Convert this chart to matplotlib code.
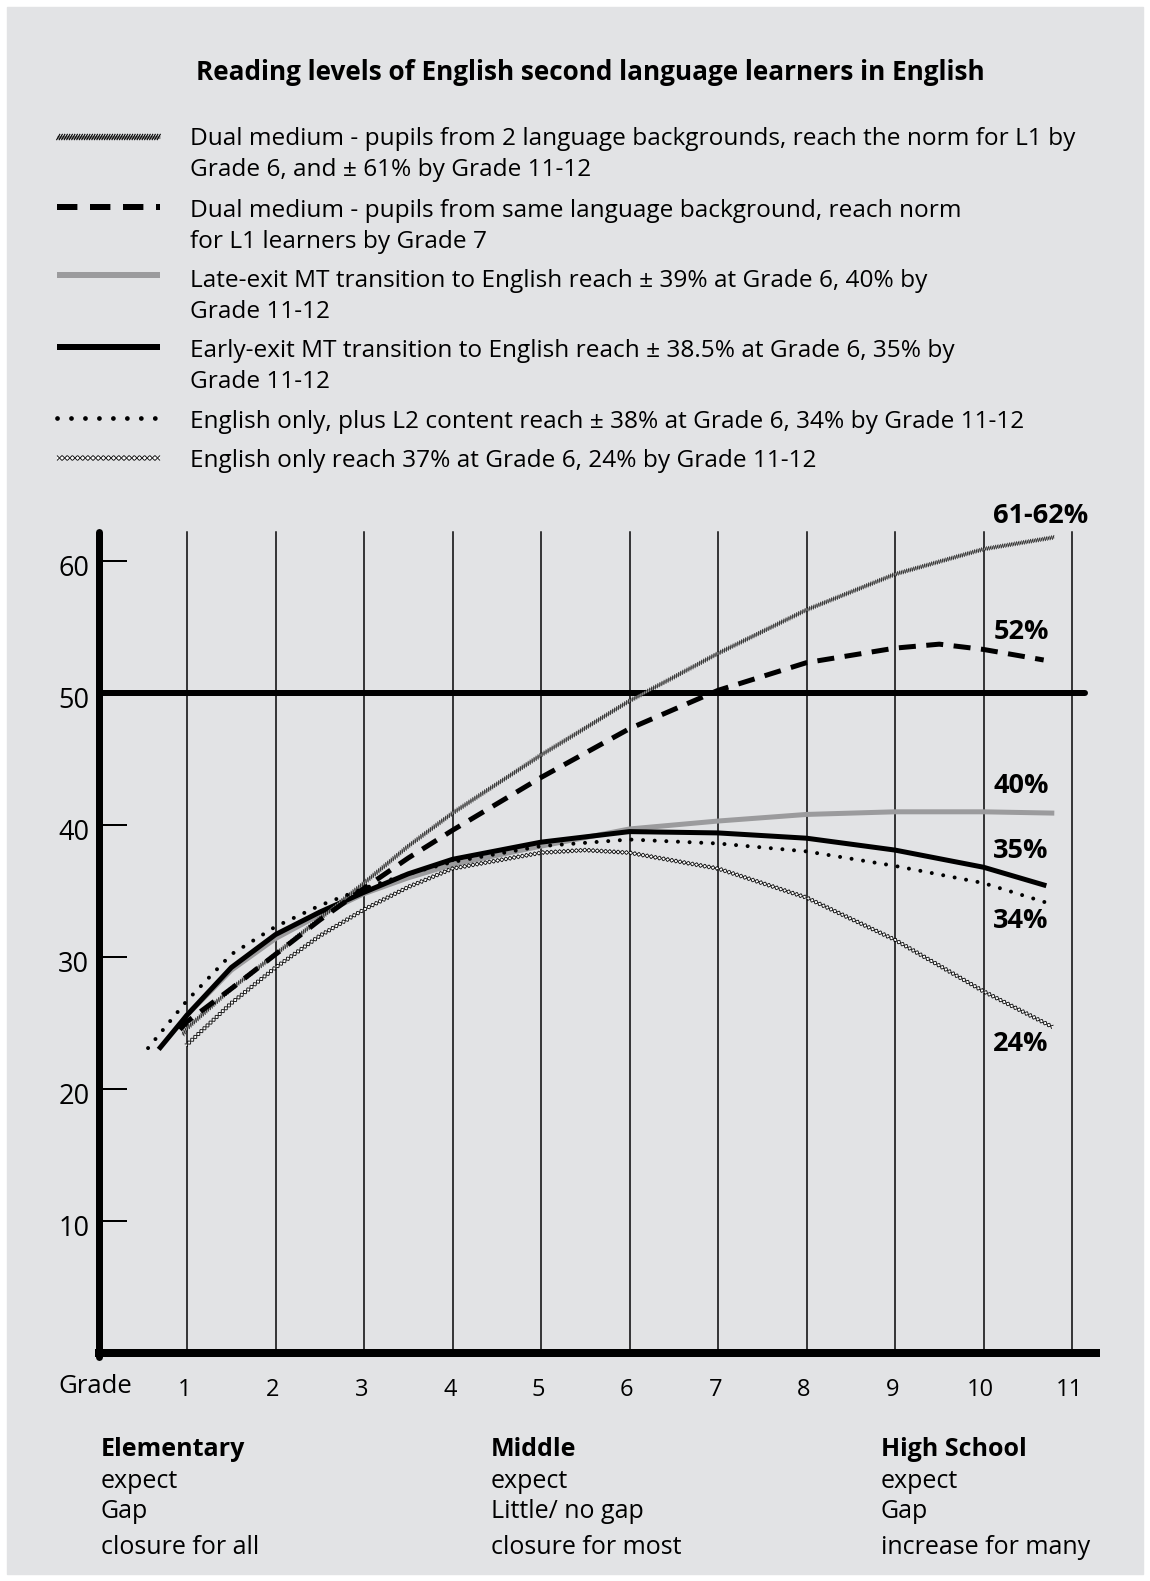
import matplotlib.pyplot as plt
import matplotlib.patheffects as pe
from matplotlib.patches import Rectangle

plt.rcParams['font.family'] = ['Open Sans', 'DejaVu Sans']

# ---- data ----
g_dual2 = [0.95, 1, 1.5, 2, 2.5, 3, 3.5, 4, 5, 6, 7, 8, 9, 10, 10.8]
v_dual2 = [24.1, 24.6, 27.6, 30.2, 32.9, 35.6, 38.4, 40.9, 45.3, 49.4, 53.0, 56.3, 59.0, 60.9, 61.8]

g_dual1 = [0.92, 1, 1.5, 2, 2.5, 3, 3.5, 4, 5, 6, 7, 8, 9, 9.5, 10, 10.68]
v_dual1 = [24.5, 25.1, 27.6, 30.2, 32.8, 35.2, 37.5, 39.6, 43.6, 47.3, 50.2, 52.3, 53.4, 53.7, 53.3, 52.5]

g_late = [0.92, 1, 1.5, 2, 2.5, 3, 3.5, 4, 5, 6, 7, 8, 9, 10, 10.8]
v_late = [24.8, 25.6, 29.0, 31.4, 33.2, 34.8, 36.0, 37.0, 38.4, 39.7, 40.3, 40.8, 41.0, 41.0, 40.9]

g_early = [0.68, 1, 1.5, 2, 2.5, 3, 3.5, 4, 5, 6, 7, 8, 9, 10, 10.71]
v_early = [23.0, 25.6, 29.2, 31.7, 33.4, 34.9, 36.3, 37.4, 38.7, 39.5, 39.4, 39.0, 38.1, 36.8, 35.4]

g_l2 = [0.56, 1, 1.5, 2, 2.5, 3, 3.5, 4, 5, 6, 7, 8, 9, 10, 10.72]
v_l2 = [23.1, 26.7, 30.2, 32.3, 33.9, 35.2, 36.3, 37.2, 38.4, 38.9, 38.6, 38.0, 36.9, 35.6, 34.1]

g_eng = [0.99, 1.5, 2, 2.5, 3, 3.5, 4, 5, 5.5, 6, 7, 8, 9, 10, 10.78]
v_eng = [23.3, 26.5, 29.2, 31.6, 33.6, 35.3, 36.7, 37.9, 38.1, 37.9, 36.7, 34.5, 31.3, 27.4, 24.7]

grades = [1, 2, 3, 4, 5, 6, 7, 8, 9, 10, 11]
yticks = [10, 20, 30, 40, 60]
norm = 50

legend_texts = [
    ["Dual medium - pupils from 2 language backgrounds, reach the norm for L1 by",
     "Grade 6, and ± 61% by Grade 11-12"],
    ["Dual medium - pupils from same language background, reach norm",
     "for L1 learners by Grade 7"],
    ["Late-exit MT transition to English reach ± 39% at Grade 6, 40% by",
     "Grade 11-12"],
    ["Early-exit MT transition to English reach ± 38.5% at Grade 6, 35% by",
     "Grade 11-12"],
    ["English only, plus L2 content reach ± 38% at Grade 6, 34% by Grade 11-12"],
    ["English only reach 37% at Grade 6, 24% by Grade 11-12"],
]
end_labels = ["61-62%", "52%", "40%", "35%", "34%", "24%"]
phases = [["Elementary", "expect", "Gap", "closure for all"],
          ["Middle", "expect", "Little/ no gap", "closure for most"],
          ["High School", "expect", "Gap", "increase for many"]]

BG = '#e2e3e5'
GREY = '#9b9b9d'
PX = 0.72  # points per pixel at dpi 100
DY = 4     # text centre shift (pixels)

W, H = 1150, 1581
fig = plt.figure(figsize=(W / 100, H / 100), dpi=100, facecolor='white')

# overlay in pixel coordinates for background, legend and texts
ov = fig.add_axes([0, 0, 1, 1])
ov.set_xlim(0, W)
ov.set_ylim(H, 0)
ov.axis('off')
ov.add_patch(Rectangle((7, 7), W - 14, H - 14, color=BG, zorder=0))


def hatched(sp, ln, lw):
    return [pe.Normal(),
            pe.TickedStroke(angle=60, spacing=sp, length=ln, linewidth=lw, foreground='black'),
            pe.TickedStroke(angle=-120, spacing=sp, length=ln, linewidth=lw, foreground='black')]


def diamonds(sp):
    return [pe.Normal()] + [pe.TickedStroke(angle=a, spacing=sp, length=0.707,
                                            linewidth=0.6, foreground='black')
                            for a in (45, 135, -45, -135)]


def draw_series(ax, x, y, kind, legend=False):
    f = 1.2 if legend else 1.0
    if kind == 'dual2':
        if legend:
            pes = hatched(1.8, 1.45, 0.8)
        else:
            pes = hatched(1.7, 1.1, 0.45)
        ax.plot(x, y, color='#8d8d8d', lw=2.6 * PX * f, solid_capstyle='butt',
                path_effects=pes, clip_on=False, zorder=4)
    elif kind == 'dual1':
        ax.plot(x, y, color='black', lw=5 * PX * f, linestyle=(0, (3.4, 2.1)),
                dash_capstyle='butt', clip_on=False, zorder=5)
    elif kind == 'late':
        ax.plot(x, y, color=GREY, lw=5 * PX * f, solid_capstyle='butt', clip_on=False, zorder=3)
    elif kind == 'early':
        ax.plot(x, y, color='black', lw=5 * PX * f, solid_capstyle='butt', clip_on=False, zorder=3)
    elif kind == 'l2':
        ax.plot(x, y, color='black', lw=4 * PX * f, linestyle=(0, (0.01, 2.9)),
                dash_capstyle='round', clip_on=False, zorder=5)
    elif kind == 'eng':
        ax.plot(x, y, color='white', lw=2.0 * PX * f, solid_capstyle='butt',
                path_effects=diamonds(3.0 * f), clip_on=False, zorder=4)


# ---- title and legend ----
ov.text(590, 68 + DY, "Reading levels of English second language learners in English",
        fontsize=18.8, fontweight='bold', ha='center', va='center')

kinds = ['dual2', 'dual1', 'late', 'early', 'l2', 'eng']
sample_y = [137, 207, 275, 347, 418, 458]
text_y = [135, 207, 277, 347, 418, 457]
for kind, sy, ty, lines in zip(kinds, sample_y, text_y, legend_texts):
    draw_series(ov, [57, 160], [sy, sy], kind, legend=True)
    for i, line in enumerate(lines):
        ov.text(190, ty + 31 * i + DY, line, fontsize=17.6, ha='left', va='center')

# ---- main chart ----
X0, SX = 98.5, 88.5     # pixel of grade 0, pixels per grade
Y0, SY = 1353, 13.2     # pixel of value 0, pixels per unit
xlim = (-0.2, 11.5)
ylim = (-2, 66)
left = X0 + SX * xlim[0]
right = X0 + SX * xlim[1]
bottom = Y0 - SY * ylim[0]
top = Y0 - SY * ylim[1]
ax = fig.add_axes([left / W, 1 - bottom / H, (right - left) / W, (bottom - top) / H])
ax.set_xlim(*xlim)
ax.set_ylim(*ylim)
ax.axis('off')
ax.patch.set_alpha(0)

ytop = 62.2
for g in grades:
    ax.plot([g, g], [0, ytop], color='black', lw=1.5 * PX, zorder=1)
ax.plot([0, 0], [-0.3, ytop], color='black', lw=7 * PX, solid_capstyle='round', zorder=6)
ax.plot([-0.04, 11.32], [0, 0], color='black', lw=8 * PX, solid_capstyle='butt', zorder=6)
ax.plot([0, 11.15], [norm, norm], color='black', lw=6 * PX, solid_capstyle='round', zorder=2)
for t in yticks:
    ax.plot([0, 0.31], [t, t], color='black', lw=2 * PX, zorder=2)
for t in yticks + [norm]:
    ax.text(-0.28, t - 0.6, str(t), fontsize=19.5, ha='center', va='center')

for g in grades:
    ax.text(g - 0.03, -2.8, str(g), fontsize=17, ha='center', va='center')
ax.text(-0.04, -2.55, "Grade", fontsize=18.5, ha='center', va='center')

draw_series(ax, g_late, v_late, 'late')
draw_series(ax, g_early, v_early, 'early')
draw_series(ax, g_eng, v_eng, 'eng')
draw_series(ax, g_dual2, v_dual2, 'dual2')
draw_series(ax, g_dual1, v_dual1, 'dual1')
draw_series(ax, g_l2, v_l2, 'l2')

# end labels
label_pos = [(1041, 512), (1021, 628), (1021, 782), (1021, 847), (1021, 917), (1021, 1040)]
for lab, (px, py) in zip(end_labels, label_pos):
    ov.text(px, py + DY, lab, fontsize=19.5, fontweight='bold', ha='center', va='center', zorder=10)

# phase notes
for px, lines in zip([101, 491, 881], phases):
    for i, (line, py) in enumerate(zip(lines, [1446, 1477, 1508, 1543])):
        ov.text(px, py + DY, line, fontsize=18, fontweight='bold' if i == 0 else 'normal',
                ha='left', va='center')

fig.savefig('out.png', dpi=100, facecolor='white')
